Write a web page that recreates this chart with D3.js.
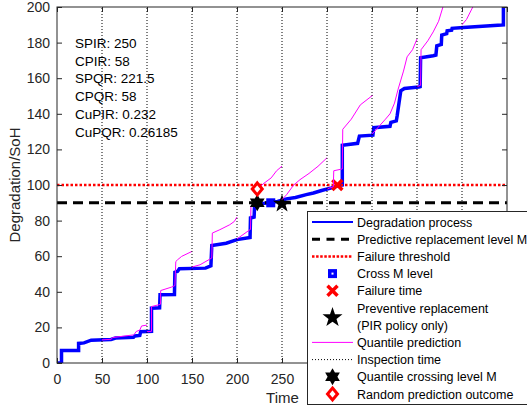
<!DOCTYPE html>
<html>
<head>
<meta charset="utf-8">
<script src="https://cdn.jsdelivr.net/npm/d3@7"></script>
<style>
  body { margin: 0; background: #fff; }
  text { font-family: "Liberation Sans", Arial, sans-serif; }
</style>
</head>
<body>
<div id="chart"></div>
<script>
// degradation path (time, level) - step path
var degT = [1, 5, 5, 24, 24, 30, 38, 60, 65, 85, 86.5, 92, 93, 105, 105, 114, 114.5, 130.5, 131, 134, 136, 165, 171, 172,
  188, 200, 214.5, 215, 219, 219.5, 222, 230, 237.5, 245, 255, 265, 277, 285, 294, 305, 314, 317, 317, 334, 336, 351, 352,
  370, 371, 377, 378, 380, 382, 386, 402, 403.5, 404, 418, 421, 422, 427, 427.5, 433, 433.5, 438.5, 439, 451.5, 494, 496, 496];
var degY = [0, 0, 7, 7, 11, 11.3, 12.8, 13.2, 14, 14.5, 15.2, 15.5, 17.6, 17.8, 30.8, 31, 38.3, 38.5, 51, 51.5, 53, 53.3, 54.6, 66,
  67.3, 69.3, 70.5, 81.5, 82, 88, 89.5, 89.7, 90, 90.8, 92.2, 93, 94.6, 95.5, 96.9, 98.4, 99.8, 100, 122.3, 123.4, 127.5, 128, 132.2,
  133, 135.2, 136, 139, 146, 152.9, 154.2, 155.1, 155.3, 171.5, 172.6, 173, 178.2, 179, 184.2, 185, 186.6, 187, 188, 188.5, 189.9, 190, 215];

// quantile prediction segments, one per inspection
var quantT = [
  [50, 60, 62, 85, 86.5, 88, 92, 94, 100],
  [100, 105, 105, 113, 115, 115.2, 127, 131, 132, 134, 138.5, 150],
  [150, 159, 170, 172, 172.6, 181, 192, 197, 200],
  [200, 214.4, 215, 215.5, 222.5],
  [222.5, 230, 238, 244, 250],
  [250, 255, 263, 270, 280, 290, 300],
  [300, 307, 307.5, 317, 317.5, 327, 337, 351],
  [350, 357, 365, 370, 375, 379, 385, 389, 395, 400],
  [400, 404, 404.5, 412, 418, 424, 430],
  [450, 455, 462, 466]
];
var quantY = [
  [13, 13.3, 14.3, 15.8, 16.5, 17.7, 18.5, 20.8, 21.3],
  [17.6, 17.8, 31.7, 32.7, 33, 40.7, 42.6, 43.5, 57, 58, 59.9, 62.7],
  [53.9, 55.2, 58.4, 59, 73, 74.9, 77.7, 79.5, 82],
  [69.7, 74.9, 75, 88, 90],
  [97.8, 101, 104, 108, 110.6],
  [91.8, 94.5, 100, 103, 106.5, 110.5, 115.3],
  [97.8, 99, 108, 109, 131.3, 137, 145, 150.5],
  [128.5, 132.5, 137, 140, 146, 153.8, 164, 172, 176, 182],
  [155.3, 156, 176, 181, 186, 192, 202],
  [190, 193, 200, 205]
];

var inspectionTimes = [50, 100, 150, 200, 250, 300, 350, 400, 450];
var levelM = 90;
var failureLevel = 100;

var crossM = [237.5, 90];
var failureTime = [311.5, 100];
var preventive = [250, 90];
var quantCross = [222.5, 90];
var randomOutcome = [222.5, 97.8];

var infoLines = ["SPIR: 250", "CPIR: 58", "SPQR: 221.5", "CPQR: 58", "CuPIR: 0.232", "CuPQR: 0.26185"];

var legendLabels = ["Degradation process", "Predictive replacement level M", "Failure threshold", "Cross M level",
  "Failure time", ["Preventive replacement", "(PIR policy only)"], "Quantile prediction", "Inspection time",
  "Quantile crossing level M", "Random prediction outcome"];

var xTicks = [0, 50, 100, 150, 200, 250, 300, 350, 400, 450, 500];
var xTickLabels = ["0", "50", "100", "150", "200", "250"];   // the rest sit under the legend
var yTicks = [0, 20, 40, 60, 80, 100, 120, 140, 160, 180, 200];

// ---- setup
var W = 527, H = 407;
var axCol = "#262626";
var svg = d3.select("#chart").append("svg").attr("width", W).attr("height", H);

var x = d3.scaleLinear().domain([0, 500]).range([57, 507]);
var y = d3.scaleLinear().domain([0, 200]).range([363, 7]);

svg.append("clipPath").attr("id", "clip")
  .append("rect").attr("x", 57).attr("y", 7).attr("width", 450).attr("height", 356);

var plot = svg.append("g").attr("clip-path", "url(#clip)");

function starPath(n, ro, ri) {
  var pts = [];
  for (var i = 0; i < 2 * n; i++) {
    var r = i % 2 == 0 ? ro : ri;
    var a = -Math.PI / 2 + i * Math.PI / n;
    pts.push([r * Math.cos(a), r * Math.sin(a)]);
  }
  return "M" + pts.map(p => p[0].toFixed(2) + "," + p[1].toFixed(2)).join("L") + "Z";
}

// marker drawers (cx, cy in pixels)
function drawSquare(g, cx, cy, dot) {
  g.append("rect").attr("x", cx - 4.5).attr("y", cy - 4.5).attr("width", 9).attr("height", 9).attr("fill", "#0000ff");
  if (dot) g.append("rect").attr("x", cx - 1).attr("y", cy - 1).attr("width", 2).attr("height", 2).attr("fill", "#fff");
}
function drawX(g, cx, cy) {
  g.append("path").attr("d", `M${cx-5},${cy-5}L${cx+5},${cy+5}M${cx-5},${cy+5}L${cx+5},${cy-5}`)
    .attr("stroke", "#ff0000").attr("stroke-width", 3.5).attr("fill", "none");
}
function drawStar5(g, cx, cy, s) {
  g.append("path").attr("d", starPath(5, 10 * s, 4 * s)).attr("transform", `translate(${cx},${cy + 1})`).attr("fill", "#000");
}
function drawStar6(g, cx, cy) {
  g.append("path").attr("d", starPath(6, 8.5, 4.9)).attr("transform", `translate(${cx},${cy})`).attr("fill", "#000");
}
function drawDiamond(g, cx, cy) {
  g.append("path").attr("d", `M${cx},${cy-6}L${cx+5},${cy}L${cx},${cy+6}L${cx-5},${cy}Z`)
    .attr("fill", "#fff").attr("stroke", "#ff0000").attr("stroke-width", 3);
}

// ---- marks
var degData = degT.map((t, i) => [t, degY[i]]);
var line = d3.line().x(d => x(d[0])).y(d => y(d[1]));

plot.append("path").datum(degData).attr("d", line)
  .attr("fill", "none").attr("stroke", "#0000ff").attr("stroke-width", 3.5).attr("stroke-linejoin", "miter");

plot.append("line").attr("x1", x(0)).attr("x2", x(500)).attr("y1", y(levelM)).attr("y2", y(levelM))
  .attr("stroke", "#000").attr("stroke-width", 3).attr("stroke-dasharray", "10,6");

plot.append("line").attr("x1", x(0)).attr("x2", x(500)).attr("y1", y(failureLevel)).attr("y2", y(failureLevel))
  .attr("stroke", "#ff0000").attr("stroke-width", 2.5).attr("stroke-dasharray", "2.5,2");

drawSquare(plot, x(crossM[0]), y(crossM[1]), false);
drawX(plot, x(failureTime[0]), y(failureTime[1]));
drawStar5(plot, x(preventive[0]), y(preventive[1]), 0.95);

quantT.forEach(function(ts, k) {
  var seg = ts.map((t, i) => [t, quantY[k][i]]);
  plot.append("path").datum(seg).attr("d", line)
    .attr("fill", "none").attr("stroke", "#ff00ff").attr("stroke-width", 1);
});

plot.selectAll(".insp").data(inspectionTimes).enter().append("line")
  .attr("x1", d => x(d)).attr("x2", d => x(d)).attr("y1", y(0)).attr("y2", y(200))
  .attr("stroke", "#000").attr("stroke-width", 1).attr("stroke-dasharray", "1,2");

drawStar6(plot, x(quantCross[0]), y(quantCross[1]));
drawDiamond(plot, x(randomOutcome[0]), y(randomOutcome[1]));

// ---- axes
svg.append("g").attr("transform", "translate(57,0)")
  .call(d3.axisLeft(y).tickValues(yTicks).tickSizeInner(-5).tickSizeOuter(0).tickPadding(7))
  .call(g => g.select(".domain").remove())
  .call(g => g.selectAll("line").attr("stroke", axCol))
  .call(g => g.selectAll("text").attr("fill", axCol).style("font-size", "14px").style("font-family", "Liberation Sans, Arial, sans-serif"));

svg.append("g").attr("transform", "translate(0,363)")
  .call(d3.axisBottom(x).tickValues(xTicks).tickSizeInner(-5).tickSizeOuter(0).tickPadding(11)
    .tickFormat((d, i) => i < xTickLabels.length ? xTickLabels[i] : ""))
  .call(g => g.select(".domain").remove())
  .call(g => g.selectAll("line").attr("stroke", axCol))
  .call(g => g.selectAll("text").attr("fill", axCol).style("font-size", "14px").style("font-family", "Liberation Sans, Arial, sans-serif"));

svg.append("g").attr("transform", "translate(507,0)")
  .call(d3.axisRight(y).tickValues(yTicks).tickSizeInner(-5).tickSizeOuter(0).tickFormat(""))
  .call(g => g.select(".domain").remove())
  .call(g => g.selectAll("line").attr("stroke", axCol));

svg.append("g").attr("transform", "translate(0,7)")
  .call(d3.axisTop(x).tickValues(xTicks).tickSizeInner(-5).tickSizeOuter(0).tickFormat(""))
  .call(g => g.select(".domain").remove())
  .call(g => g.selectAll("line").attr("stroke", axCol));

svg.append("rect").attr("x", 57).attr("y", 7).attr("width", 450).attr("height", 356)
  .attr("fill", "none").attr("stroke", axCol).attr("stroke-width", 1);

svg.append("text").attr("transform", "translate(20,185) rotate(-90)").attr("text-anchor", "middle")
  .attr("fill", axCol).style("font-size", "15px").text("Degradation/SoH");

svg.append("text").attr("x", 282.5).attr("y", 403).attr("text-anchor", "middle")
  .attr("fill", axCol).style("font-size", "15px").text("Time");

// info text
svg.selectAll(".info").data(infoLines).enter().append("text")
  .attr("x", 75).attr("y", (d, i) => 47.7 + i * 17.8)
  .attr("fill", "#000").style("font-size", "13.5px").text(d => d);

// ---- legend
var leg = svg.append("g");
leg.append("rect").attr("x", 307.5).attr("y", 211.5).attr("width", 240).attr("height", 193)
  .attr("fill", "#fff").attr("stroke", axCol).attr("stroke-width", 1);

var rowH = 17.2, row0 = 222, lx1 = 312, lx2 = 353, mx = 332.5, tx = 357;
var k = 0;
legendLabels.forEach(function(lab, i) {
  var lines = Array.isArray(lab) ? lab : [lab];
  var cy = row0 + (k + (lines.length - 1) / 2) * rowH;
  var gi = leg.append("g");
  if (i == 0) gi.append("line").attr("x1", lx1).attr("x2", lx2).attr("y1", cy).attr("y2", cy).attr("stroke", "#0000ff").attr("stroke-width", 2);
  if (i == 1) gi.append("line").attr("x1", lx1).attr("x2", lx2).attr("y1", cy).attr("y2", cy).attr("stroke", "#000").attr("stroke-width", 3).attr("stroke-dasharray", "8,6.5");
  if (i == 2) gi.append("line").attr("x1", lx1).attr("x2", lx2).attr("y1", cy).attr("y2", cy).attr("stroke", "#ff0000").attr("stroke-width", 2.5).attr("stroke-dasharray", "2.5,1.6");
  if (i == 3) drawSquare(gi, mx, cy, true);
  if (i == 4) drawX(gi, mx, cy);
  if (i == 5) drawStar5(gi, mx, cy, 1.05);
  if (i == 6) gi.append("line").attr("x1", lx1).attr("x2", lx2).attr("y1", cy).attr("y2", cy).attr("stroke", "#ff00ff").attr("stroke-width", 1);
  if (i == 7) gi.append("line").attr("x1", lx1).attr("x2", lx2).attr("y1", cy).attr("y2", cy).attr("stroke", "#000").attr("stroke-width", 1).attr("stroke-dasharray", "1,2");
  if (i == 8) drawStar6(gi, mx, cy);
  if (i == 9) drawDiamond(gi, mx, cy);
  lines.forEach(function(s, j) {
    gi.append("text").attr("x", tx).attr("y", row0 + (k + j) * rowH + 4.5)
      .attr("fill", "#000").style("font-size", "12.5px").text(s);
  });
  k += lines.length;
});
</script>
</body>
</html>
